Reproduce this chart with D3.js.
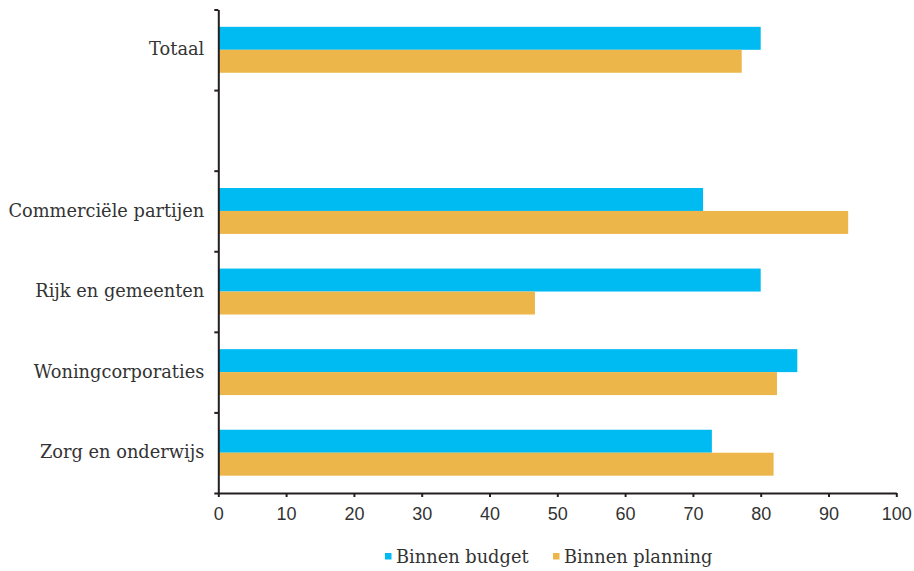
<!DOCTYPE html>
<html>
<head>
<meta charset="utf-8">
<script src="https://cdn.jsdelivr.net/npm/d3@7"></script>
<style>
  html, body { margin: 0; padding: 0; background: #fff; }
  svg { display: block; }
</style>
</head>
<body>
<svg id="chart" width="914" height="571"></svg>
<script>
// Percentage of projects finished within budget / within planning, per client group
const categories = ["Totaal", "", "Commerciële partijen", "Rijk en gemeenten", "Woningcorporaties", "Zorg en onderwijs"];
const binnenBudget = [80, null, 71.5, 80, 85.4, 72.8];
const binnenPlanning = [77.2, null, 92.9, 46.7, 82.4, 81.9];
const seriesNames = ["Binnen budget", "Binnen planning"];
const seriesColors = ["#00bbf2", "#ecb64a"];
const xTicks = [0, 10, 20, 30, 40, 50, 60, 70, 80, 90, 100];

const svg = d3.select("#chart");
const axisColor = "#231f20";
const labelFont = "'DejaVu Serif', serif";
const tickFont = "'Liberation Sans Narrow', 'Liberation Sans', sans-serif";

const plot = { left: 218.3, right: 896.3, top: 9.5, bottom: 493 };

const x = d3.scaleLinear().domain([0, 100]).range([plot.left, plot.right]);
const y = d3.scaleBand().domain(categories.map((c, i) => i))
  .range([plot.top, plot.bottom]).paddingInner(0.43).paddingOuter(0.215);
const ySub = d3.scaleBand().domain([0, 1]).range([0, y.bandwidth()]);

const rows = categories.map((c, i) => ({ i, c, values: [binnenBudget[i], binnenPlanning[i]] }));

// Bars
const groups = svg.append("g").selectAll("g").data(rows).join("g")
  .attr("transform", d => `translate(0,${y(d.i)})`);
groups.selectAll("rect")
  .data(d => d.values.map((v, k) => ({ v, k })).filter(e => e.v != null))
  .join("rect")
  .attr("x", x(0))
  .attr("y", e => ySub(e.k))
  .attr("height", ySub.bandwidth())
  .attr("width", e => x(e.v) - x(0))
  .attr("fill", e => seriesColors[e.k]);

// Y axis: tick marks on category boundaries
const yEdge = d3.scaleLinear().domain([0, categories.length]).range([plot.top, plot.bottom]);
const yAxisG = svg.append("g").attr("transform", `translate(${plot.left},0)`)
  .call(d3.axisLeft(yEdge).tickValues(d3.range(categories.length + 1))
    .tickSize(4).tickSizeOuter(0).tickFormat(""));
yAxisG.select(".domain").attr("stroke", axisColor).attr("stroke-width", 2);
yAxisG.selectAll(".tick line").attr("stroke", axisColor).attr("stroke-width", 2);

// Category labels
const yLabels = svg.append("g").attr("transform", `translate(${plot.left},0)`)
  .call(d3.axisLeft(y).tickSize(0).tickPadding(14).tickFormat(i => categories[i]));
yLabels.select(".domain").remove();
yLabels.selectAll("text")
  .attr("font-family", labelFont).attr("font-size", 17.8).attr("fill", "#333");

// X axis
const xAxisG = svg.append("g").attr("transform", `translate(0,${plot.bottom})`)
  .call(d3.axisBottom(x).tickValues(xTicks).tickSize(4).tickSizeOuter(0).tickPadding(10));
xAxisG.select(".domain").attr("stroke", axisColor).attr("stroke-width", 2);
xAxisG.selectAll(".tick line").attr("stroke", axisColor).attr("stroke-width", 2);
xAxisG.selectAll("text")
  .attr("font-family", tickFont).attr("font-size", 18).attr("fill", "#333");

// Legend
const legendItems = [{ x: 385, k: 0 }, { x: 553, k: 1 }];
const legend = svg.append("g").selectAll("g").data(legendItems).join("g")
  .attr("transform", d => `translate(${d.x},553)`);
legend.append("rect").attr("width", 6.5).attr("height", 6.5)
  .attr("fill", d => seriesColors[d.k]);
legend.append("text").attr("x", 11).attr("y", 10)
  .attr("font-family", labelFont).attr("font-size", 17.8).attr("fill", "#333")
  .text(d => seriesNames[d.k]);
</script>
</body>
</html>
